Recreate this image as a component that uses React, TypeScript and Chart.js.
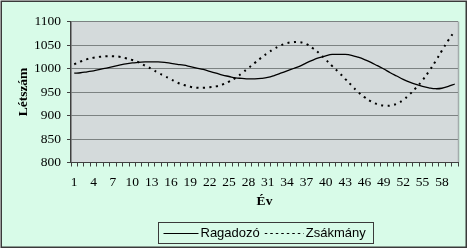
import React, { useEffect, useRef } from 'react';
import { Chart, registerables } from 'chart.js';

Chart.register(...registerables);

const years = [
  '1','2','3','4','5','6','7','8','9','10',
  '11','12','13','14','15','16','17','18','19','20',
  '21','22','23','24','25','26','27','28','29','30',
  '31','32','33','34','35','36','37','38','39','40',
  '41','42','43','44','45','46','47','48','49','50',
  '51','52','53','54','55','56','57','58','59','60',
];

const ragadozo = [
  990, 991, 993, 995, 998, 1001, 1004, 1007, 1010, 1012,
  1013, 1014, 1014, 1014, 1013, 1011, 1009, 1007, 1004, 1001,
  998, 994, 990, 986, 983, 980, 979, 978, 978, 979,
  981, 985, 990, 995, 1000, 1005, 1012, 1018, 1023, 1027,
  1030, 1030, 1030, 1028, 1024, 1019, 1013, 1006, 999, 991,
  984, 977, 971, 966, 962, 959, 957, 958, 962, 967,
];

const zsakmany = [
  1009, 1015, 1020, 1023, 1025, 1026, 1026, 1025, 1022, 1018,
  1013, 1006, 999, 991, 984, 977, 970, 965, 961, 959,
  959, 960, 962, 966, 972, 980, 990, 1001, 1012, 1023,
  1033, 1042, 1049, 1054, 1056, 1056, 1052, 1043, 1032, 1019,
  1005, 992, 978, 964, 950, 939, 930, 924, 921, 921,
  925, 933, 945, 959, 975, 994, 1015, 1038, 1060, 1080,
];

const seriesNames = ['Ragadozó', 'Zsákmány'];
const yTitle = 'Létszám';
const xTitle = 'Év';

const MINT = '#D8FBE8';
const PLOT = '#D4DADB';
const SERIF = '"Liberation Serif", "Times New Roman", serif';
const SANS = '"Liberation Sans", Arial, sans-serif';

const framePlugin = {
  id: 'frame',
  beforeDraw(chart: any) {
    const { ctx, chartArea } = chart;
    ctx.save();
    ctx.fillStyle = '#FFFFFF';
    ctx.fillRect(0, 0, chart.width, chart.height);
    ctx.fillStyle = MINT;
    ctx.fillRect(1, 1, 465, 246);
    ctx.strokeStyle = '#3A3A3A';
    ctx.lineWidth = 1.5;
    ctx.strokeRect(1.25, 1.25, 465, 246);
    ctx.fillStyle = PLOT;
    ctx.fillRect(chartArea.left, chartArea.top, chartArea.right - chartArea.left, chartArea.bottom - chartArea.top);
    ctx.strokeStyle = '#A3ABAB';
    ctx.lineWidth = 1.5;
    ctx.beginPath();
    ctx.moveTo(chartArea.right + 0.5, chartArea.top);
    ctx.lineTo(chartArea.right + 0.5, chartArea.bottom);
    ctx.stroke();
    ctx.restore();
  },
  afterDraw(chart: any) {
    const { ctx } = chart;
    ctx.save();
    const bx = 158.5, by = 222.5, bw = 215, bh = 21;
    ctx.strokeStyle = '#3A3A3A';
    ctx.lineWidth = 1;
    ctx.strokeRect(bx, by, bw, bh);
    const cy = by + bh / 2 + 0.5;
    ctx.font = '13px ' + SANS;
    ctx.textBaseline = 'middle';
    ctx.fillStyle = '#000000';
    let x = bx + 5;
    ctx.strokeStyle = '#000000';
    ctx.lineWidth = 1.2;
    ctx.beginPath();
    ctx.moveTo(x, cy);
    ctx.lineTo(x + 35, cy);
    ctx.stroke();
    x += 37;
    ctx.fillText(seriesNames[0], x, cy);
    x += ctx.measureText(seriesNames[0]).width + 5;
    ctx.setLineDash([2.5, 3]);
    ctx.beginPath();
    ctx.moveTo(x, cy);
    ctx.lineTo(x + 39, cy);
    ctx.stroke();
    ctx.setLineDash([]);
    x += 41;
    ctx.fillText(seriesNames[1], x, cy);
    ctx.restore();
  },
};

export default function App() {
  const ref = useRef<HTMLCanvasElement>(null);
  useEffect(() => {
    const canvas = ref.current;
    if (!canvas) return;
    const chart = new Chart(canvas, {
      type: 'line',
      data: {
        labels: years,
        datasets: [
          {
            label: seriesNames[0],
            data: ragadozo,
            borderColor: '#000000',
            borderWidth: 1.3,
            pointRadius: 0,
            tension: 0.4,
            fill: false,
          },
          {
            label: seriesNames[1],
            data: zsakmany,
            borderColor: '#000000',
            borderWidth: 2,
            borderDash: [2, 4.5],
            pointRadius: 0,
            tension: 0.4,
            fill: false,
          },
        ],
      },
      options: {
        animation: false,
        responsive: false,
        maintainAspectRatio: false,
        devicePixelRatio: 1,
        layout: { padding: { left: 0, top: 21.5, right: 11, bottom: 0 } },
        plugins: {
          legend: { display: false },
          tooltip: { enabled: false },
        },
        scales: {
          x: {
            type: 'category',
            offset: true,
            afterFit: (s: any) => { s.height = 87.5; },
            grid: {
              offset: true,
              drawOnChartArea: false,
              drawTicks: true,
              tickLength: 4,
              color: '#404040',
            },
            border: { display: true, color: '#404040', width: 1 },
            ticks: {
              autoSkip: false,
              maxRotation: 0,
              padding: 8,
              color: '#000000',
              font: { family: SERIF, size: 13.5 },
              callback: (_v: any, i: number) => (i % 3 === 0 ? years[i] : ''),
            },
            title: {
              display: true,
              text: xTitle,
              color: '#000000',
              font: { family: SERIF, size: 13.5, weight: 'bold' },
              padding: { top: 0, bottom: 40 },
            },
          },
          y: {
            min: 800,
            max: 1100,
            afterFit: (s: any) => { s.width = 71; },
            grid: {
              color: '#7C8282',
              lineWidth: 1,
              tickLength: 4,
              tickColor: '#404040',
            },
            border: { display: true, color: '#404040', width: 1.5 },
            ticks: {
              stepSize: 50,
              padding: 6,
              color: '#000000',
              font: { family: SERIF, size: 13.5 },
              callback: (v: any) => String(v),
            },
            title: {
              display: true,
              text: yTitle,
              color: '#000000',
              font: { family: SERIF, size: 13.5, weight: 'bold' },
              padding: { top: 15, bottom: 0 },
            },
          },
        },
      },
      plugins: [framePlugin],
    });
    return () => chart.destroy();
  }, []);
  return (
    <div style={{ position: 'fixed', left: 0, top: 0, width: 469, height: 250 }}>
      <canvas ref={ref} width={469} height={250} style={{ width: 469, height: 250, display: 'block' }} />
    </div>
  );
}
